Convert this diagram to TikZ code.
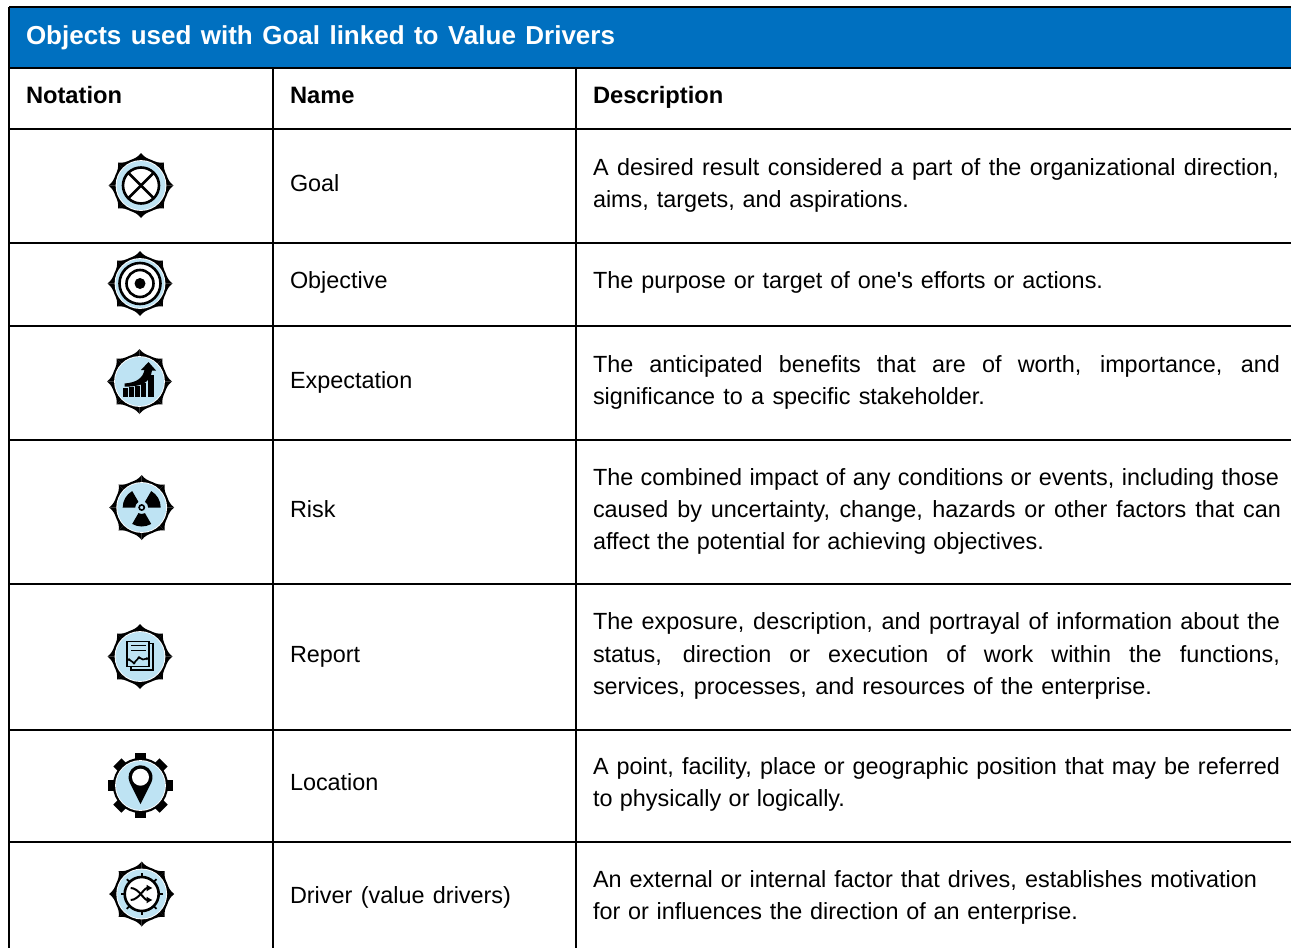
\documentclass[tikz,border=0pt]{standalone}
\usepackage{fontspec}
\setmainfont[Ligatures=TeXOff]{Liberation Sans}
\usetikzlibrary{arrows.meta}
\definecolor{hdr}{HTML}{0070C0}
\definecolor{icn}{HTML}{BEE3F3}
\tikzset{
  txt/.style={anchor=base west,inner sep=0pt,outer sep=0pt,font=\fontsize{23.4}{28}\selectfont,text=black},
  hd/.style={txt,font=\fontsize{23.7}{28}\bfseries\selectfont},
  ttl/.style={txt,font=\fontsize{26}{30}\bfseries\selectfont,text=white},
  rule/.style={draw=black,line width=2pt},
  ink/.style={draw=black,line width=2.6pt},
}
% name, x, baseline, right edge, text, style
\newcommand{\tline}[6][txt]{\pgfmathsetmacro{\tlw}{#5-#3}\node[#1] (#2) at (#3,#4) {\makebox[\tlw pt][s]{#6}};}
% spiked gear in local, y-up coordinates
\newcommand{\spikegear}{%
  \foreach \a in {0,45,...,315}{
    \fill[black] (0,0) -- (\a:32.5) .. controls (\a+6:28.6) and (\a+14:27.6) .. (\a+22.5:27.6)
      .. controls (\a+31:27.6) and (\a+39:28.6) .. (\a+45:32.5) -- cycle;
  }
  \fill[white] (0,0) circle (25.4);
  \fill[icn] (0,0) circle (24.5);
}
\begin{document}
\begin{tikzpicture}[x=1pt,y=-1pt]
\useasboundingbox (0,0) rectangle (1291,948);
\fill[white] (0,0) rectangle (1291,948);
\fill[hdr] (10,8) rectangle (1291,67);
% table rules
\coordinate (tl) at (9,7); \coordinate (tr) at (1291,7);
\coordinate (bl) at (9,948);
\draw[rule] (tl) -- (tr);
\draw[rule] (tl) -- (bl);
\foreach \y in {68,129,243,326,440,584,730,842}{ \draw[rule] (9,\y) -- (1291,\y); }
\draw[rule] (273,68) -- (273,948);
\draw[rule] (576,68) -- (576,948);
% header
\tline[ttl]{title}{26}{44}{615}{Objects used with Goal linked to Value Drivers}
\tline[hd]{hnot}{26}{103}{121}{Notation}
\tline[hd]{hname}{290}{103}{353}{Name}
\tline[hd]{hdesc}{593}{103}{724}{Description}
% names
\tline{n1}{290}{191}{338}{Goal}
\tline{n2}{290}{288}{388}{Objective}
\tline{n3}{290}{388}{412}{Expectation}
\tline{n4}{290}{517}{337}{Risk}
\tline{n5}{290}{662}{361}{Report}
\tline{n6}{290}{790}{378}{Location}
\tline{n7}{290}{903}{511}{Driver (value drivers)}
% descriptions
\tline{d1a}{593}{175}{1279}{A desired result considered a part of the organizational direction,}
\tline{d1b}{593}{207}{909}{aims, targets, and aspirations.}
\tline{d2a}{593}{288}{1103}{The purpose or target of one's efforts or actions.}
\tline{d3a}{593}{372}{1280}{The anticipated benefits that are of worth, importance, and}
\tline{d3b}{593}{404}{985}{significance to a specific stakeholder.}
\tline{d4a}{593}{485}{1279}{The combined impact of any conditions or events, including those}
\tline{d4b}{593}{517}{1281}{caused by uncertainty, change, hazards or other factors that can}
\tline{d4c}{593}{549}{1044}{affect the potential for achieving objectives.}
\tline{d5a}{593}{629}{1280}{The exposure, description, and portrayal of information about the}
\tline{d5b}{593}{662}{1280}{status, direction or execution of work within the functions,}
\tline{d5c}{593}{694}{1152}{services, processes, and resources of the enterprise.}
\tline{d6a}{593}{774}{1280}{A point, facility, place or geographic position that may be referred}
\tline{d6b}{593}{806}{845}{to physically or logically.}
\tline{d7a}{593}{887}{1257}{An external or internal factor that drives, establishes motivation}
\tline{d7b}{593}{919}{1078}{for or influences the direction of an enterprise.}
% Goal
\begin{scope}[shift={(141,185.5)},y=1pt]
  \spikegear
  \fill[white] (0,0) circle (17.5);
  \draw[ink] (0,0) circle (18);
  \draw[ink] (-45:19) -- (135:19);
  \draw[ink] (45:19) -- (225:19);
\end{scope}
% Objective
\begin{scope}[shift={(140,283.5)},y=1pt]
  \spikegear
  \fill[white] (0,0) circle (20.5);
  \draw[ink] (0,0) circle (20.5);
  \draw[ink] (0,0) circle (13.5);
  \fill[black] (0,0) circle (5.5);
\end{scope}
% Expectation
\begin{scope}[shift={(139.5,381.5)},y=1pt]
  \spikegear
  \fill[black] (-16.5,-15.5) rectangle (-11.5,-6.5);
  \fill[black] (-10.5,-15.5) rectangle (-5.5,-5.5);
  \fill[black] (-4.5,-15.5) rectangle (0.5,-4);
  \fill[black] (1.5,-15.5) rectangle (6.5,-1);
  \fill[black] (8,-15.5) rectangle (14,7);
  \fill[black] (-15,-2) .. controls (-3,-1) and (3,3) .. (5,11.5)
     -- (1.5,11.5) -- (9,19.5) -- (16.5,11) -- (12.5,11) .. controls (11,-3) and (-2,-5.5) .. (-15,-5) -- cycle;
\end{scope}
% Risk
\begin{scope}[shift={(141.7,507.5)},y=1pt]
  \spikegear
  \foreach \a in {30,150,270}{
    \fill[black] (\a-30:6.5) -- (\a-30:19) arc[start angle=\a-30,end angle=\a+30,radius=19] -- (\a+30:6.5) arc[start angle=\a+30,end angle=\a-30,radius=6.5] -- cycle;
  }
  \draw[black,line width=1.6pt] (0,0) circle (2.6);
\end{scope}
% Report
\begin{scope}[shift={(140,656.5)},y=1pt]
  \spikegear
  \draw[black,line width=1.6pt] (9,13) -- (13,13) -- (13,-13.5) -- (-9,-13.5) -- (-9,-10);
  \draw[black,line width=1.6pt,fill=icn] (-13,15) rectangle (9,-10);
  \draw[black,line width=1.6pt] (-9,11) -- (6,11) (-9,6) -- (6,6);
  \draw[black,line width=1.6pt] (-11,-3) -- (-6,-6.5) -- (-1,-1) -- (3,-3) -- (7,-2);
  \fill[black] (-11,-3) circle (1.5) (-6,-6.5) circle (1.5) (-1,-1) circle (1.5) (7,-2) circle (1.5);
\end{scope}
% Location
\begin{scope}[shift={(140.5,785.5)},y=1pt]
  \fill[black] (0,0) circle (27.6);
  \foreach \a in {0,45,...,315}{
    \fill[black,rotate=\a] (24,-5.8) rectangle (32.7,5.8);
  }
  \fill[white] (0,0) circle (25.4);
  \fill[icn] (0,0) circle (24.5);
  \fill[black] (0,-18.5) -- (-10.8,3) arc[start angle=206,end angle=-26,radius=12] -- cycle;
  \fill[white] (0,8.3) circle (8.5);
\end{scope}
% Driver
\begin{scope}[shift={(141.7,894)},y=1pt]
  \spikegear
  \foreach \a in {0,45,...,315}{ \draw[black,line width=1.8pt] (\a:16) -- (\a:21); }
  \draw[black,line width=2.6pt,fill=white] (0,0) circle (17);
  \draw[black,line width=2pt,-{Latex[length=6pt,width=7pt]}] (-11,-6) .. controls (-3,-6) and (2,6) .. (11,6);
  \draw[black,line width=2pt,-{Latex[length=6pt,width=7pt]}] (-11,6) .. controls (-3,6) and (2,-6) .. (11,-6);
\end{scope}
\end{tikzpicture}
\end{document}
